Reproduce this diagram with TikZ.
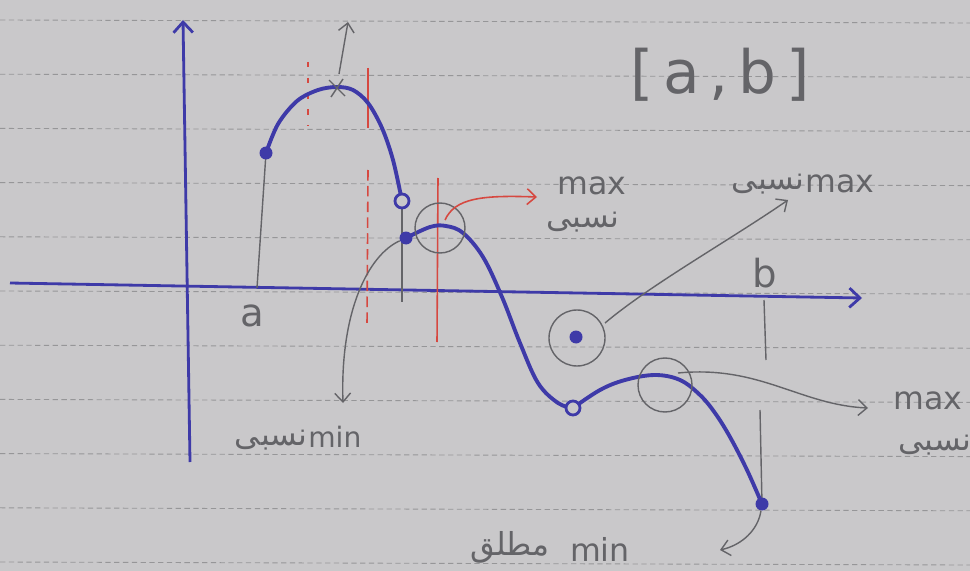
\documentclass[tikz,border=0pt]{standalone}
\usepackage{fontspec}
\setmainfont{DejaVu Sans}
\newfontfamily\arabicfont[Script=Arabic]{DejaVu Sans}
\TeXXeTstate=1
\usetikzlibrary{arrows.meta}

\definecolor{paper}{RGB}{201,200,202}
\definecolor{pen}{RGB}{62,58,168}
\definecolor{pencil}{RGB}{100,100,104}
\definecolor{redpen}{RGB}{214,72,64}
\definecolor{ruling}{RGB}{150,150,152}

\newcommand{\fatext}[1]{{\arabicfont\beginR #1\endR}}

\begin{document}
\begin{tikzpicture}[
    x=0.02cm, y=-0.02cm,
    axisline/.style={pen, line width=1.6pt, -{Straight Barb[length=6pt,width=11pt]}},
    curve/.style={pen, line width=2.2pt, line cap=round},
    guide/.style={pencil, line width=0.8pt},
    pointer/.style={pencil, line width=0.8pt, -{Straight Barb[length=5pt,width=9pt]}},
    bound/.style={redpen, line width=0.9pt},
    ring/.style={pencil, line width=0.8pt},
    closed/.style={circle, fill=pen, inner sep=0pt, minimum size=0.26cm},
    open/.style={circle, draw=pen, fill=paper, line width=1.6pt, inner sep=0pt, minimum size=0.28cm},
    note/.style={pencil, font=\fontsize{18}{22}\selectfont}
]

% Paper and ruled lines
\fill[paper] (0,0) rectangle (970,571);
\useasboundingbox (0,0) rectangle (970,571);
\foreach \k in {0,...,10}
    \draw[ruling, line width=0.5pt, dash pattern=on 3pt off 2pt] (0,{20+54.2*\k}) -- (970,{23+54.2*\k});

% Axes
\coordinate (ybot) at (190,462);
\coordinate (ytop) at (183,20);
\coordinate (xleft) at (10,283);
\coordinate (xright) at (862,298);
\draw[axisline] (ybot) -- (ytop);
\draw[axisline] (xleft) -- (xright);

% Key points of the graph
\coordinate (start) at (266,153);
\coordinate (peak) at (337,87);
\coordinate (gap) at (402,201);
\coordinate (jump) at (406,238);
\coordinate (hump) at (446,226);
\coordinate (lowmin) at (573,408);
\coordinate (single) at (576,337);
\coordinate (bump) at (655,375);
\coordinate (finish) at (762,504);

% Red boundary marks
\draw[bound, dash pattern=on 3pt off 6pt] (308,62) -- (308,126);
\draw[bound] (368,68) -- (368,128);
\draw[bound, dash pattern=on 6pt off 3pt] (368,170) -- (367,325);
\draw[bound] (438,178) -- (437,342);

% Pencil guides at a and b
\draw[guide] (257,288) -- (start);
\draw[guide] (764,300) -- (766,360);
\draw[guide] (760,410) -- (finish);
\draw[guide] (gap) -- (402,302);

% Blue graph
\draw[curve] plot[smooth, tension=0.55] coordinates {(start) (278,124) (297,101) (318,90) (peak) (353,90) (368,103) (382,128) (393,160) (gap)};
\draw[curve] plot[smooth, tension=0.6] coordinates {(jump) (430,227) (hump) (463,233) (483,257) (502,297) (520,343) (538,383) (558,403) (lowmin)};
\draw[curve] plot[smooth, tension=0.6] coordinates {(lowmin) (600,390) (625,380) (bump) (680,380) (700,395) (715,413) (730,437) (747,470) (finish)};

% Cross at the top and its arrow
\draw[guide] (329,80) -- (345,96);
\draw[guide] (331,97) -- (343,79);
\draw[pointer] (339,74) -- (348,22);

% Rings round the extrema
\draw[ring] (440,228) circle (25);
\draw[ring] (577,338) circle (28);
\draw[ring] (665,385) circle (27);

% Dots
\node[closed] (startdot) at (start) {};
\node[open] (gapdot) at (gap) {};
\node[closed] (jumpdot) at (jump) {};
\node[open] (mindot) at (lowmin) {};
\node[closed] (singledot) at (single) {};
\node[closed] (finishdot) at (finish) {};

% Labels
\node[pencil, font=\fontsize{34}{40}\selectfont] (interval) at (720,75) {[\,a\,,\,b\,]};
\node[note, font=\fontsize{22}{26}\selectfont] (alabel) at (252,316) {a};
\node[note, font=\fontsize{22}{26}\selectfont] (blabel) at (765,273) {b};

\node[note] (max1) at (592,186) {max};
\node[note] (max1fa) at (583,222) {\fatext{نسبی}};
\node[note, anchor=west, inner sep=0pt] (max2) at (805,184) {max};
\node[note, anchor=east, inner sep=0pt] (max2fa) at (805,184) {\fatext{نسبی}};
\node[note] (max3) at (928,401) {max};
\node[note] (max3fa) at (935,445) {\fatext{نسبی}};
\node[note, anchor=west, inner sep=0pt, font=\fontsize{16}{20}\selectfont] (min1) at (308,437) {min};
\node[note, anchor=east, inner sep=0pt] (min1fa) at (308,440) {\fatext{نسبی}};
\node[note] (min2) at (600,549) {min};
\node[note] (min2fa) at (510,547) {\fatext{مطلق}};

% Pointers to the labels
\draw[bound, -{Straight Barb[length=5pt,width=9pt]}] (445,220) .. controls (455,198) and (482,195) .. (537,197);
\draw[pointer] (605,323) .. controls (650,285) and (730,240) .. (788,200);
\draw[pointer] (678,373) .. controls (760,365) and (800,405) .. (868,408);
\draw[pointer] (jumpdot) .. controls (368,255) and (340,312) .. (343,403);
\draw[pointer] (finishdot) .. controls (758,530) and (742,545) .. (720,550);

\end{tikzpicture}
\end{document}
